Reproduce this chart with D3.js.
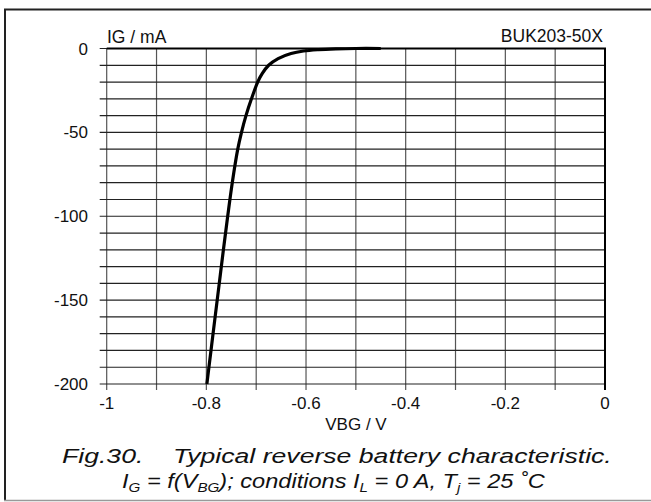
<!DOCTYPE html>
<html>
<head>
<meta charset="utf-8">
<script src="https://cdn.jsdelivr.net/npm/d3@7"></script>
<style>
html,body{margin:0;padding:0;background:#fff;}
svg{display:block;font-family:"Liberation Sans",Arial,sans-serif;}
</style>
</head>
<body>
<svg id="chart" width="651" height="502"></svg>
<script>
// Data
const vbg = [-0.799, -0.7907, -0.7824, -0.7741, -0.7658, -0.7572, -0.748, -0.737, -0.7295, -0.7205, -0.7095, -0.697, -0.688, -0.675, -0.656, -0.630, -0.605, -0.575, -0.54, -0.50, -0.45];
const ig  = [-200, -180, -160, -140, -120, -100, -80, -60, -50, -40, -30, -20, -15, -10, -6, -3, -1.5, -0.7, -0.25, 0, 0];
const xTicks = [-1, -0.8, -0.6, -0.4, -0.2, 0];
const xTickLabels = ["-1", "-0.8", "-0.6", "-0.4", "-0.2", "0"];
const yTicks = [0, -50, -100, -150, -200];
const yTickLabels = ["0", "-50", "-100", "-150", "-200"];
const xGrid = d3.range(0, 11).map(i => -1 + i * 0.1);
const yGrid = d3.range(0, 21).map(i => -i * 10);

const svg = d3.select("#chart");
const x = d3.scaleLinear().domain([-1, 0]).range([106.7, 605]);
const y = d3.scaleLinear().domain([-200, 0]).range([384, 48.5]);

// outer frame
svg.append("line").attr("x1", 5).attr("x2", 5).attr("y1", 9).attr("y2", 501).attr("stroke", "#222").attr("stroke-width", 2);
svg.append("line").attr("x1", 4).attr("x2", 651).attr("y1", 9.5).attr("y2", 9.5).attr("stroke", "#222").attr("stroke-width", 2);
svg.append("line").attr("x1", 4).attr("x2", 651).attr("y1", 500.5).attr("y2", 500.5).attr("stroke", "#999").attr("stroke-width", 1.5);

// grid
const g = svg.append("g");
g.selectAll(".vg").data(xGrid).enter().append("line")
  .attr("x1", d => x(d)).attr("x2", d => x(d))
  .attr("y1", y(0)).attr("y2", y(-200) + 6)
  .attr("stroke", "#555").attr("stroke-width", 1.2);
g.selectAll(".hg").data(yGrid).enter().append("line")
  .attr("x1", x(-1) - 7).attr("x2", x(0))
  .attr("y1", d => y(d)).attr("y2", d => y(d))
  .attr("stroke", "#222").attr("stroke-width", 1.2);
// thicker top & right border
g.append("line").attr("x1", x(-1)).attr("x2", x(0) + 1).attr("y1", y(0)).attr("y2", y(0)).attr("stroke", "#000").attr("stroke-width", 2);
g.append("line").attr("x1", x(0)).attr("x2", x(0)).attr("y1", y(0)).attr("y2", y(-200) + 6).attr("stroke", "#000").attr("stroke-width", 2);

// curve
const line = d3.line().x((d, i) => x(vbg[i])).y((d, i) => y(ig[i])).curve(d3.curveCatmullRom.alpha(0.5));
svg.append("path").datum(vbg).attr("d", line)
  .attr("fill", "none").attr("stroke", "#000").attr("stroke-width", 3.2).attr("stroke-linejoin", "round");

// tick labels
svg.selectAll(".yl").data(yTicks).enter().append("text")
  .attr("x", 88).attr("y", d => y(d) + 6)
  .attr("text-anchor", "end").attr("font-size", 17).attr("fill", "#111")
  .text((d, i) => yTickLabels[i]);
svg.selectAll(".xl").data(xTicks).enter().append("text")
  .attr("x", d => x(d)).attr("y", 409)
  .attr("text-anchor", "middle").attr("font-size", 17).attr("fill", "#111")
  .text((d, i) => xTickLabels[i]);

// axis titles
svg.append("text").attr("x", 107).attr("y", 43).attr("font-size", 17.5).attr("fill", "#111").text("IG / mA");
svg.append("text").attr("x", 603).attr("y", 42).attr("text-anchor", "end").attr("font-size", 17.5).attr("fill", "#111").text("BUK203-50X");
svg.append("text").attr("x", 356).attr("y", 430).attr("text-anchor", "middle").attr("font-size", 17).attr("fill", "#111").text("VBG / V");

// caption
function fitWidth(sel, cx, width) {
  const w = sel.node().getComputedTextLength();
  const k = width / w;
  const yb = +sel.attr("y");
  sel.attr("x", 0).attr("text-anchor", "start")
     .attr("transform", `translate(${cx - width / 2},${yb}) scale(${k},1)`).attr("y", 0);
}
const cap1 = svg.append("text").attr("x", 0).attr("y", 463)
  .attr("font-size", 21).attr("font-style", "italic").attr("fill", "#111")
  .attr("xml:space", "preserve")
  .text("Fig.30.    Typical reverse battery characteristic.");
fitWidth(cap1, 337, 550);
const cap2 = svg.append("text").attr("x", 0).attr("y", 488)
  .attr("font-size", 21).attr("font-style", "italic").attr("fill", "#111");
const parts = [
  ["I", false], ["G", true], [" = f(V", false], ["BG", true], ["); conditions I", false], ["L", true],
  [" = 0 A, T", false], ["j", true], [" = 25 \u02DAC", false]
];
parts.forEach(p => {
  cap2.append("tspan")
    .attr("font-size", p[1] ? 13.5 : 21)
    .attr("baseline-shift", p[1] ? "-4" : null)
    .attr("xml:space", "preserve")
    .text(p[0]);
});
fitWidth(cap2, 333.5, 423);
</script>
</body>
</html>
